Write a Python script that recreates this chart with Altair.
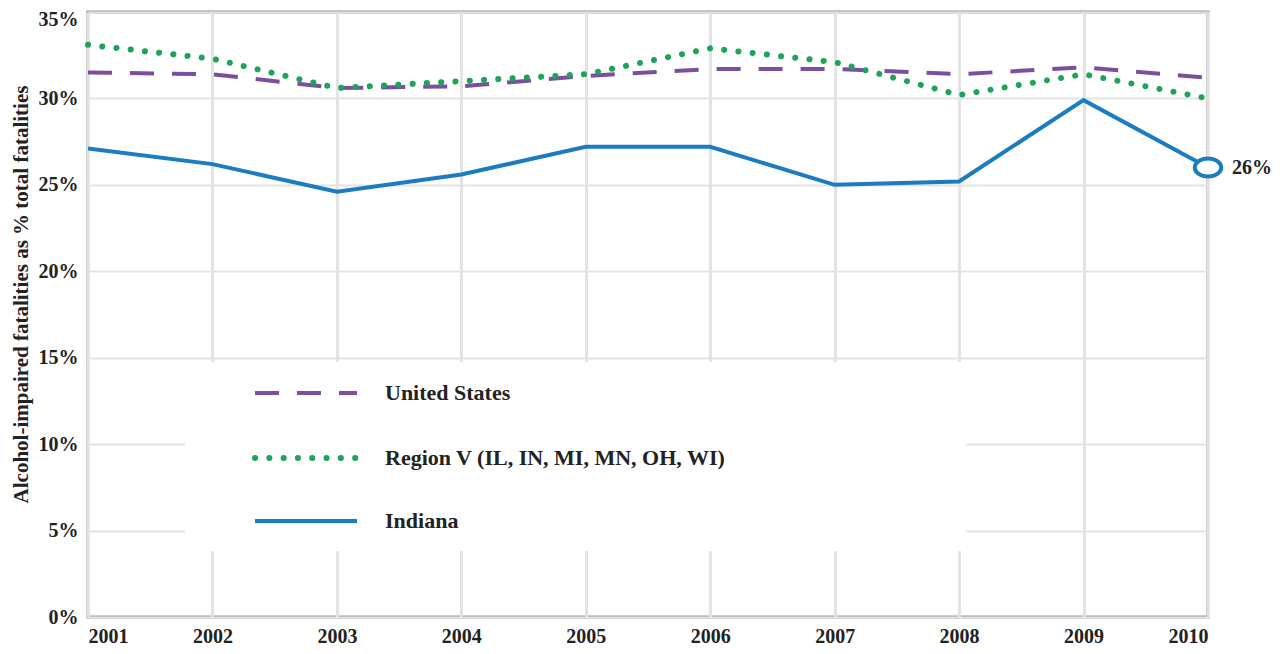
import altair as alt
import pandas as pd

years = [2001, 2002, 2003, 2004, 2005, 2006, 2007, 2008, 2009, 2010]
us = [31.5, 31.4, 30.6, 30.7, 31.3, 31.7, 31.7, 31.4, 31.8, 31.2]
region = [33.1, 32.3, 30.6, 31.0, 31.4, 32.9, 32.1, 30.2, 31.4, 30.0]
indiana = [27.1, 26.2, 24.6, 25.6, 27.2, 27.2, 25.0, 25.2, 29.9, 26.0]
y_ticks = [0, 5, 10, 15, 20, 25, 30, 35]
series_names = ["United States", "Region V (IL, IN, MI, MN, OH, WI)", "Indiana"]
end_label = "26%"

FONT = "Liberation Serif"
PURPLE = "#7b4f9e"
GREEN = "#1fa35c"
BLUE = "#1b7dc0"
TXT = "#222222"

df_us = pd.DataFrame({"year": years, "value": us})
df_reg = pd.DataFrame({"year": years, "value": region})
df_ind = pd.DataFrame({"year": years, "value": indiana})
df_end = pd.DataFrame({"year": [years[-1]], "value": [indiana[-1]], "label": [end_label]})

xs = alt.Scale(domain=[2001, 2010], nice=False, zero=False)
ys = alt.Scale(domain=[0, 35], nice=False)

X = alt.X("year:Q", scale=xs, axis=alt.Axis(values=years, format="d", title=None))
Y = alt.Y("value:Q", scale=ys, axis=alt.Axis(
    values=y_ticks, labelExpr="datum.value + '%'",
    labelOffset={"condition": {"test": "datum.value == 35", "value": 7}, "value": 0},
    title="Alcohol-impaired fatalities as % total fatalities",
    titleX=-67, titleY=282, titleAlign="center", titleBaseline="middle", titleAngle=270))

base_us = alt.Chart(df_us).mark_line(color=PURPLE, strokeWidth=4, strokeDash=[24, 18]).encode(x=X, y=Y)
base_reg = alt.Chart(df_reg).mark_line(color=GREEN, strokeWidth=6, strokeDash=[0.1, 14.2], strokeCap="round").encode(x=X, y=Y)
base_ind = alt.Chart(df_ind).mark_line(color=BLUE, strokeWidth=4).encode(x=X, y=Y)

marker = alt.Chart(df_end).mark_point(
    shape="M-1,0A1,0.68,0,1,1,1,0A1,0.68,0,1,1,-1,0Z",
    size=700, filled=True, fill="white", stroke=BLUE, strokeWidth=4, opacity=1
).encode(x=X, y=Y)
end_text = alt.Chart(df_end).mark_text(
    align="left", baseline="middle", dx=24, font=FONT, fontWeight="bold", fontSize=20, color=TXT
).encode(x=X, y=Y, text="label:N")

one = pd.DataFrame({"k": [0]})
legend_bg = alt.Chart(one).mark_rect(color="white").encode(
    x=alt.value(97), x2=alt.value(878), y=alt.value(350), y2=alt.value(539))

leg_rows = [381, 446, 509]
leg_layers = []
styles = [
    dict(color=PURPLE, strokeWidth=4, strokeDash=[24, 18]),
    dict(color=GREEN, strokeWidth=6, strokeDash=[0.1, 14.2], strokeCap="round"),
    dict(color=BLUE, strokeWidth=4),
]
for name, yy, st in zip(series_names, leg_rows, styles):
    d = pd.DataFrame({"name": [name]})
    leg_layers.append(alt.Chart(d).mark_rule(**st).encode(
        x=alt.value(167), x2=alt.value(269), y=alt.value(yy)))
    leg_layers.append(alt.Chart(d).mark_text(
        align="left", baseline="middle", font=FONT, fontWeight="bold", fontSize=22, color=TXT
    ).encode(x=alt.value(297), y=alt.value(yy), text="name:N"))

chart = alt.layer(
    legend_bg, *leg_layers, base_us, base_reg, base_ind, marker, end_text
).properties(
    width=1120, height=605,
    padding={"left": 80, "top": 4, "right": 66, "bottom": 28},
    autosize=alt.AutoSizeParams(type="none"),
).configure_view(
    stroke="#9a9a9a", strokeWidth=3
).configure_axis(
    domain=False, ticks=False,
    labelFont=FONT, labelFontWeight="bold", labelFontSize=20, labelColor=TXT,
    titleFont=FONT, titleFontWeight="bold", titleFontSize=21, titleColor=TXT,
    gridColor="#e3e3e3",
).configure_axisX(
    gridWidth=3, labelPadding=9
).configure_axisY(
    gridWidth=2, labelPadding=10
)

chart.save("out.html", embed_options={"renderer": "svg", "actions": False})
